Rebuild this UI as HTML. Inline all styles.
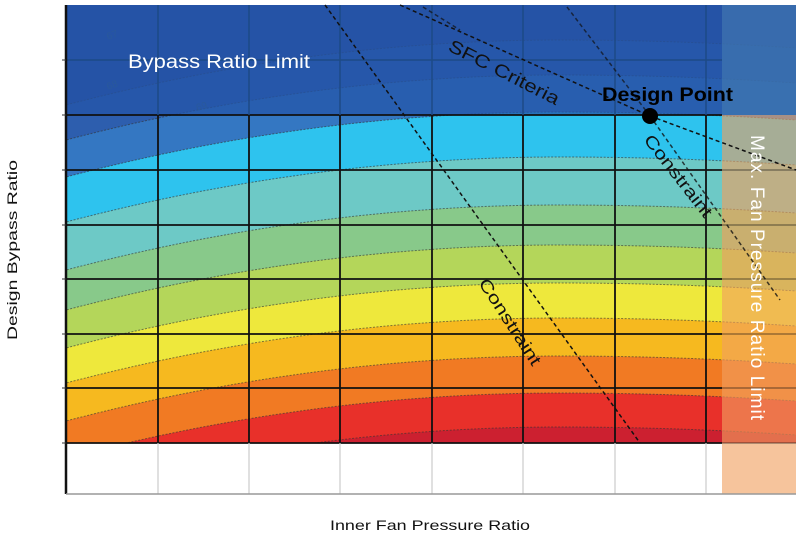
<!DOCTYPE html>
<html><head><meta charset="utf-8"><style>
html,body{margin:0;padding:0;background:#fff;}
svg{display:block;font-family:"Liberation Sans",sans-serif;}
</style></head><body>
<svg width="800" height="536" viewBox="0 0 800 536" xmlns="http://www.w3.org/2000/svg">
<defs>
<clipPath id="plot"><rect x="66" y="5" width="730" height="438"/></clipPath>
</defs>
<rect x="0" y="0" width="800" height="536" fill="#fff"/>
<g clip-path="url(#plot)">
<rect x="60" y="0" width="740" height="500" fill="#2b4c9e"/>
<path d="M60,106.6 Q310,40 560,40 Q680,40 800,48.3 L800,500 L60,500 Z" fill="#2d5eae"/>
<path d="M60,141.6 Q310,75 560,75 Q680,75 800,83.3 L800,500 L60,500 Z" fill="#3477c2"/>
<path d="M60,178.6 Q310,112 560,112 Q680,112 800,120.3 L800,500 L60,500 Z" fill="#2ec3ee"/>
<path d="M60,223.6 Q310,157 560,157 Q680,157 800,165.3 L800,500 L60,500 Z" fill="#6dc9c6"/>
<path d="M60,271.6 Q310,205 560,205 Q680,205 800,213.3 L800,500 L60,500 Z" fill="#88c98a"/>
<path d="M60,311.6 Q310,245 560,245 Q680,245 800,253.3 L800,500 L60,500 Z" fill="#b4d65a"/>
<path d="M60,349.6 Q310,283 560,283 Q680,283 800,291.3 L800,500 L60,500 Z" fill="#eee83c"/>
<path d="M60,384.6 Q310,318 560,318 Q680,318 800,326.3 L800,500 L60,500 Z" fill="#f6b91f"/>
<path d="M60,422.6 Q310,356 560,356 Q680,356 800,364.3 L800,500 L60,500 Z" fill="#f17a23"/>
<path d="M60,459.6 Q310,393 560,393 Q680,393 800,401.3 L800,500 L60,500 Z" fill="#e8302a"/>
<path d="M60,493.6 Q310,427 560,427 Q680,427 800,435.3 L800,500 L60,500 Z" fill="#cc2030"/>
<g fill="none" stroke="#333" stroke-width="1" stroke-dasharray="2,1.5" opacity="0.6">
<path d="M60,106.6 Q310,40 560,40 Q680,40 800,48.3"/>
<path d="M60,141.6 Q310,75 560,75 Q680,75 800,83.3"/>
<path d="M60,178.6 Q310,112 560,112 Q680,112 800,120.3"/>
<path d="M60,223.6 Q310,157 560,157 Q680,157 800,165.3"/>
<path d="M60,271.6 Q310,205 560,205 Q680,205 800,213.3"/>
<path d="M60,311.6 Q310,245 560,245 Q680,245 800,253.3"/>
<path d="M60,349.6 Q310,283 560,283 Q680,283 800,291.3"/>
<path d="M60,384.6 Q310,318 560,318 Q680,318 800,326.3"/>
<path d="M60,422.6 Q310,356 560,356 Q680,356 800,364.3"/>
<path d="M60,459.6 Q310,393 560,393 Q680,393 800,401.3"/>
<path d="M60,493.6 Q310,427 560,427 Q680,427 800,435.3"/>
</g>
</g>
<!-- top overlay -->
<rect x="66" y="5" width="656" height="110" fill="#2456a8" opacity="0.75"/>
<!-- bottom white -->
<rect x="66" y="443" width="656" height="51" fill="#fff"/>
<!-- grid -->
<g stroke="#111" stroke-width="1.8">
<line x1="66" y1="115" x2="722" y2="115"/><line x1="66" y1="170" x2="722" y2="170"/>
<line x1="66" y1="225" x2="722" y2="225"/><line x1="66" y1="279" x2="722" y2="279"/>
<line x1="66" y1="334" x2="722" y2="334"/><line x1="66" y1="388" x2="722" y2="388"/>
<line x1="66" y1="443" x2="722" y2="443"/>
<line x1="158" y1="115" x2="158" y2="443"/><line x1="249" y1="115" x2="249" y2="443"/>
<line x1="340" y1="115" x2="340" y2="443"/><line x1="432" y1="115" x2="432" y2="443"/>
<line x1="523" y1="115" x2="523" y2="443"/><line x1="615" y1="115" x2="615" y2="443"/>
<line x1="706" y1="115" x2="706" y2="443"/>
</g>
<g stroke="#1d4a86" stroke-width="1.5">
<line x1="66" y1="60" x2="722" y2="60"/>
<line x1="158" y1="5" x2="158" y2="115"/><line x1="249" y1="5" x2="249" y2="115"/>
<line x1="340" y1="5" x2="340" y2="115"/><line x1="432" y1="5" x2="432" y2="115"/>
<line x1="523" y1="5" x2="523" y2="115"/><line x1="615" y1="5" x2="615" y2="115"/>
<line x1="706" y1="5" x2="706" y2="115"/>
</g>
<g stroke="#ccc" stroke-width="1.2">
<line x1="158" y1="443" x2="158" y2="494"/><line x1="249" y1="443" x2="249" y2="494"/>
<line x1="340" y1="443" x2="340" y2="494"/><line x1="432" y1="443" x2="432" y2="494"/>
<line x1="523" y1="443" x2="523" y2="494"/><line x1="615" y1="443" x2="615" y2="494"/>
<line x1="706" y1="443" x2="706" y2="494"/>
</g>
<!-- right band -->
<rect x="722" y="5" width="74" height="110" fill="#3a6fae" opacity="0.9"/>
<rect x="722" y="115" width="74" height="379" fill="#f0a060" opacity="0.62"/>
<g stroke="#111" stroke-width="1.2" opacity="0.5">
<line x1="722" y1="170" x2="796" y2="170"/><line x1="722" y1="225" x2="796" y2="225"/>
<line x1="722" y1="279" x2="796" y2="279"/><line x1="722" y1="334" x2="796" y2="334"/>
<line x1="722" y1="388" x2="796" y2="388"/><line x1="722" y1="443" x2="796" y2="443"/>
</g>
<!-- constraint lines -->
<g fill="none" stroke="#111" stroke-width="1.5" stroke-dasharray="4,3">
<line x1="325" y1="5" x2="640" y2="443"/>
<line x1="400" y1="5" x2="650" y2="116"/>
<line x1="650" y1="116" x2="796" y2="170"/>
<line x1="650" y1="116" x2="780" y2="300" opacity="0.8"/>
<line x1="567" y1="7" x2="650" y2="116" opacity="0.7"/>
<line x1="423" y1="7" x2="460" y2="30" opacity="0.7"/>
</g>
<circle cx="650" cy="116" r="8" fill="#000"/>
<!-- axes -->
<line x1="66" y1="5" x2="66" y2="494" stroke="#111" stroke-width="2.5"/>
<line x1="66" y1="494" x2="796" y2="494" stroke="#999" stroke-width="1.5"/>
<g stroke="#333" stroke-width="1"><line x1="62" y1="60" x2="66" y2="60"/><line x1="62" y1="115" x2="66" y2="115"/><line x1="62" y1="170" x2="66" y2="170"/><line x1="62" y1="225" x2="66" y2="225"/><line x1="62" y1="279" x2="66" y2="279"/><line x1="62" y1="334" x2="66" y2="334"/><line x1="62" y1="388" x2="66" y2="388"/><line x1="62" y1="443" x2="66" y2="443"/></g>
<!-- contour labels -->
<g fill="#2a5a9a" font-size="10" opacity="0.8">
<text x="108" y="40" transform="rotate(-20 108 40)">67</text>
<text x="108" y="90" transform="rotate(-20 108 90)">68</text>
<text x="197" y="111" transform="rotate(-15 197 111)">69</text>
</g>
<!-- text -->
<text x="128" y="68" fill="#fff" font-size="19" textLength="182" lengthAdjust="spacingAndGlyphs">Bypass Ratio Limit</text>
<text x="0" y="0" transform="translate(447 50) rotate(27)" fill="#111" font-size="18" textLength="122" lengthAdjust="spacingAndGlyphs">SFC Criteria</text>
<text x="602" y="101" fill="#000" font-size="19" font-weight="bold" textLength="131" lengthAdjust="spacingAndGlyphs">Design Point</text>
<text x="0" y="0" transform="translate(643 140) rotate(52)" fill="#111" font-size="17" textLength="100" lengthAdjust="spacingAndGlyphs">Constraint</text>
<text x="0" y="0" transform="translate(478 283) rotate(57)" fill="#111" font-size="17" textLength="100" lengthAdjust="spacingAndGlyphs">Constraint</text>
<text x="0" y="0" transform="translate(751 135) rotate(90)" fill="#fff" font-size="19" textLength="285">Max. Fan Pressure Ratio Limit</text>
<text x="0" y="0" transform="translate(17 250) rotate(-90)" fill="#111" font-size="14" text-anchor="middle" textLength="180" lengthAdjust="spacingAndGlyphs">Design Bypass Ratio</text>
<text x="430" y="530" fill="#111" font-size="14" text-anchor="middle" textLength="200" lengthAdjust="spacingAndGlyphs">Inner Fan Pressure Ratio</text>
</svg>
</body></html>
